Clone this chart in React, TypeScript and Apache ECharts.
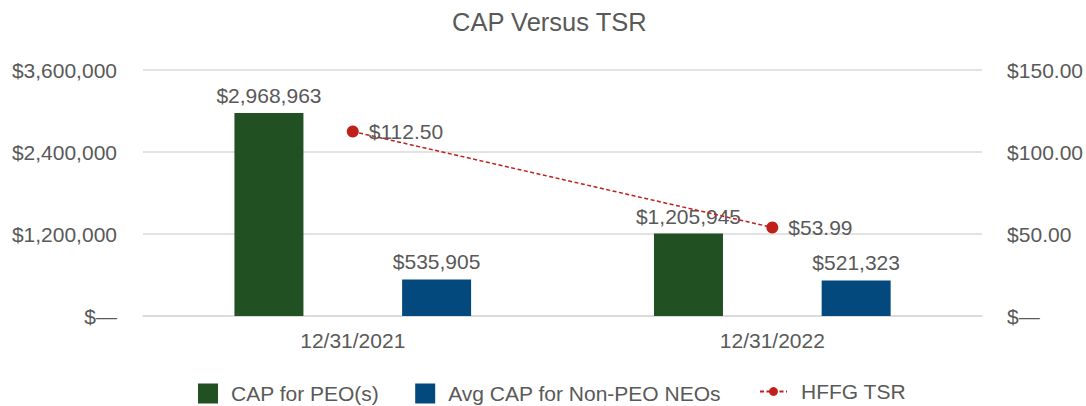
import React, { useEffect, useRef } from "react";
import * as echarts from "echarts";

const categories = ["12/31/2021", "12/31/2022"];
const capPEO = [2968963, 1205945];
const avgCapNonPEO = [535905, 521323];
const tsr = [112.5, 53.99];
const leftTicks = { min: 0, max: 3600000, interval: 1200000 };
const rightTicks = { min: 0, max: 150, interval: 50 };

const FONT = "Liberation Sans, Arial, sans-serif";
const GRAY = "#595959";
const FS = 21;

const fmtMoney = (v: number) => (v === 0 ? "$—" : "$" + Math.round(v).toLocaleString("en-US"));
const fmtDollar2 = (v: number) => (v === 0 ? "$—" : "$" + v.toFixed(2));

export default function App() {
  const ref = useRef<HTMLDivElement>(null);
  useEffect(() => {
    if (!ref.current) return;
    const chart = echarts.init(ref.current, undefined, { renderer: "svg" });
    chart.setOption({
      animation: false,
      backgroundColor: "#ffffff",
      title: {
        text: "CAP Versus TSR",
        left: 452,
        top: 9,
        padding: 0,
        textStyle: { fontFamily: FONT, fontSize: 25.5, fontWeight: "normal", color: GRAY },
      },
      legend: [
        {
          data: ["CAP for PEO(s)", "Avg CAP for Non-PEO NEOs"],
          left: 198,
          top: 383,
          padding: 0,
          itemWidth: 20,
          itemHeight: 20,
          itemGap: 36,
          icon: "rect",
          textStyle: { fontFamily: FONT, fontSize: FS, color: GRAY, padding: [0, 0, 0, 8] },
        },
        {
          data: ["HFFG TSR"],
          left: 759,
          top: 381,
          padding: 0,
          itemWidth: 27,
          itemHeight: 11,
          textStyle: { fontFamily: FONT, fontSize: FS, color: GRAY, padding: [0, 0, 0, 9] },
        },
      ],
      grid: { left: 143, right: 101, top: 70, bottom: 90, containLabel: false },
      xAxis: {
        type: "category",
        data: categories,
        axisLine: { show: true, lineStyle: { color: "#d9d9d9", width: 1.5 } },
        axisTick: { show: false },
        axisLabel: { fontFamily: FONT, fontSize: FS, color: GRAY, margin: 14 },
      },
      yAxis: [
        {
          type: "value",
          min: leftTicks.min,
          max: leftTicks.max,
          interval: leftTicks.interval,
          axisLine: { show: false },
          axisTick: { show: false },
          splitLine: { lineStyle: { color: "#d9d9d9", width: 1.5 } },
          axisLabel: { fontFamily: FONT, fontSize: FS, color: GRAY, margin: 26, formatter: fmtMoney },
        },
        {
          type: "value",
          min: rightTicks.min,
          max: rightTicks.max,
          interval: rightTicks.interval,
          axisLine: { show: false },
          axisTick: { show: false },
          splitLine: { show: false },
          axisLabel: { fontFamily: FONT, fontSize: FS, color: GRAY, margin: 25, formatter: fmtDollar2 },
        },
      ],
      series: [
        {
          name: "CAP for PEO(s)",
          type: "bar",
          data: capPEO,
          barWidth: 69,
          barGap: "143%",
          itemStyle: { color: "#215122" },
          label: {
            show: true,
            position: "top",
            distance: 7,
            fontFamily: FONT,
            fontSize: FS,
            color: GRAY,
            formatter: (p: any) => fmtMoney(p.value),
          },
        },
        {
          name: "Avg CAP for Non-PEO NEOs",
          type: "bar",
          data: avgCapNonPEO,
          barWidth: 69,
          itemStyle: { color: "#03497E" },
          label: {
            show: true,
            position: "top",
            distance: 7,
            fontFamily: FONT,
            fontSize: FS,
            color: GRAY,
            formatter: (p: any) => fmtMoney(p.value),
          },
        },
        {
          name: "HFFG TSR",
          type: "line",
          yAxisIndex: 1,
          data: tsr,
          symbol: "circle",
          symbolSize: 12,
          z: 5,
          itemStyle: { color: "#C0201A" },
          lineStyle: { color: "#C0201A", width: 1.5, type: [4, 2.5] },
          label: {
            show: true,
            position: "right",
            distance: 10,
            fontFamily: FONT,
            fontSize: FS,
            color: GRAY,
            formatter: (p: any) => fmtDollar2(p.value),
          },
        },
      ],
    });
    return () => chart.dispose();
  }, []);
  return (
    <div
      ref={ref}
      style={{ position: "fixed", left: 0, top: 0, width: 1086, height: 406 }}
    />
  );
}
